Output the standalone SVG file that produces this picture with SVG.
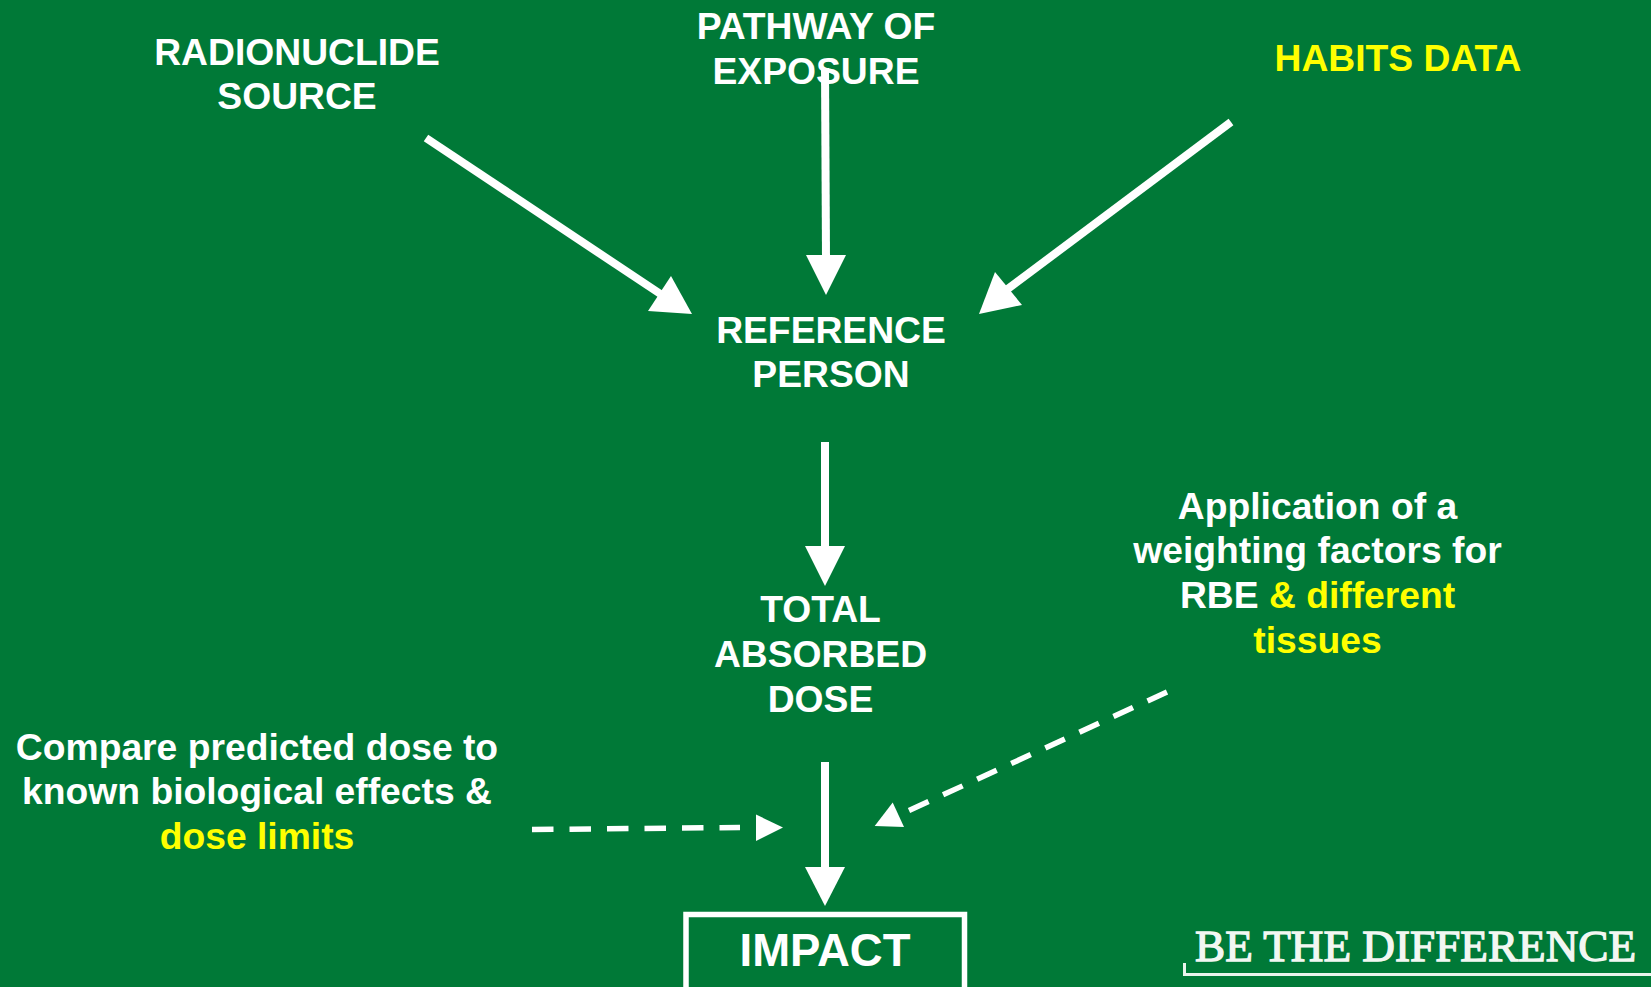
<svg xmlns="http://www.w3.org/2000/svg" width="1651" height="987" viewBox="0 0 1651 987">
<style>
.t{font-family:"Liberation Sans",Arial,sans-serif;font-weight:700;font-size:37.250px;fill:#fff;text-anchor:middle}
.y{fill:#ff0}
.l{stroke:#fff;stroke-width:8;fill:none}
.d{stroke:#fff;stroke-width:5.5;fill:none;stroke-dasharray:21.5 16}
.h{fill:#fff}
</style>
<rect width="1651" height="987" fill="#007937"/>
<g id="connectors">
<path class="l" d="M426 138L662 295"/><polygon class="h" points="692,314 648,311 671,276"/>
<path class="l" d="M825 68L826 258"/><polygon class="h" points="826,295 806,255 846,255"/>
<path class="l" d="M1231 122L1005 291"/><polygon class="h" points="979,314 1022,305 995,272"/>
<path class="l" d="M825 442V550"/><polygon class="h" points="825,586 805,546 845,546"/>
<path class="l" d="M825 762V870"/><polygon class="h" points="825,906 805,867 845,867"/>
<path class="d" d="M532 829.500L740 827.500"/><polygon class="h" points="783,827.500 756,814.500 756,841"/>
<path class="d" d="M909 810.500L1167 692"/><polygon class="h" points="874.700,826 904,827 892.700,802.500"/>
</g>
<g id="radionuclide"><text class="t" x="297" y="65">RADIONUCLIDE</text><text class="t" x="297" y="109">SOURCE</text></g>
<g id="pathway"><text class="t" x="816" y="38.500">PATHWAY OF</text><text class="t" x="816" y="83.500">EXPOSURE</text></g>
<g id="habits"><text class="t y" x="1398" y="71">HABITS DATA</text></g>
<g id="reference"><text class="t" x="831" y="343">REFERENCE</text><text class="t" x="831" y="387">PERSON</text></g>
<g id="total"><text class="t" x="820.5" y="622">TOTAL</text><text class="t" x="820.5" y="667">ABSORBED</text><text class="t" x="820.5" y="712">DOSE</text></g>
<g id="weighting"><text class="t" x="1317.500" y="519">Application of a</text><text class="t" x="1317.500" y="563">weighting factors for</text><text class="t" x="1317.500" y="608">RBE <tspan class="y">&amp; different</tspan></text><text class="t y" x="1317.500" y="653">tissues</text></g>
<g id="compare"><text class="t" x="257" y="760">Compare predicted dose to</text><text class="t" x="257" y="804">known biological effects &amp;</text><text class="t y" x="257" y="849">dose limits</text></g>
<g id="impact"><rect x="686" y="914.5" width="278.5" height="80" fill="none" stroke="#fff" stroke-width="5.5"/><text class="t" x="825" y="965.500" style="font-size:45.500px">IMPACT</text></g>
<g id="brand"><path d="M1184.500 963V974.500H1651" fill="none" stroke="#eaf4ec" stroke-width="3"/><text x="1195" y="960.500" style="font-family:'Liberation Serif',serif;font-size:45.200px;font-weight:400;fill:#f2f7f2;stroke:#f2f7f2;stroke-width:1.300">BE THE DIFFERENCE</text></g>
</svg>
